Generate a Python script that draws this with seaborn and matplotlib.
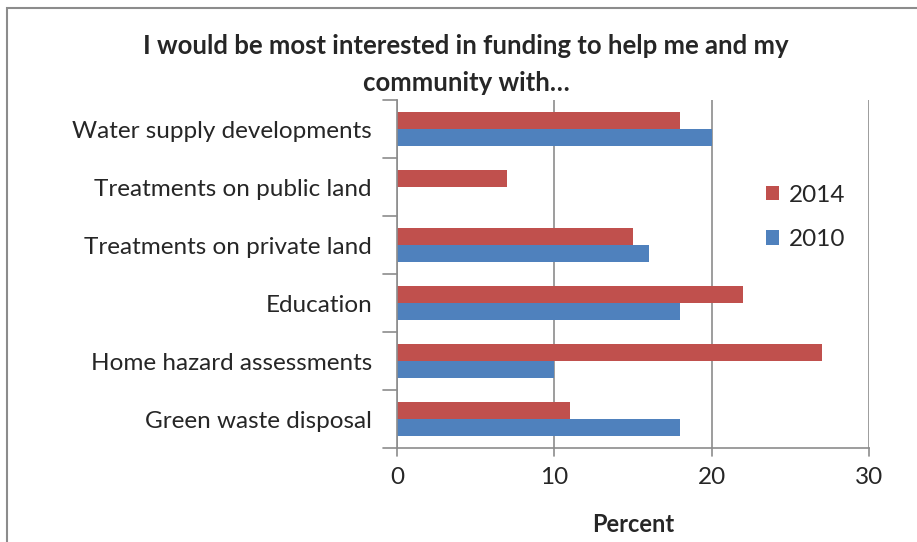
import matplotlib
matplotlib.use("Agg")
import matplotlib.pyplot as plt
import matplotlib.patches as mpatches
import seaborn as sns
import pandas as pd

categories = [
    "Water supply developments",
    "Treatments on public land",
    "Treatments on private land",
    "Education",
    "Home hazard assessments",
    "Green waste disposal",
]
values_2014 = [18, 7, 15, 22, 27, 11]
values_2010 = [20, 0, 16, 18, 10, 18]
years = ["2014", "2010"]
palette = {"2014": "#C0504D", "2010": "#4F81BD"}
x_ticks = [0, 10, 20, 30]

df = pd.DataFrame({
    "category": categories * 2,
    "year": ["2014"] * len(categories) + ["2010"] * len(categories),
    "percent": values_2014 + values_2010,
})

sns.set_theme(style="white")
plt.rcParams["font.family"] = ["Lato", "DejaVu Sans"]

fig = plt.figure(figsize=(9.17, 5.42), dpi=100)
ax = fig.add_axes([397 / 917, 1 - 448 / 542, (869 - 397) / 917, (448 - 100) / 542])

sns.barplot(data=df, y="category", x="percent", hue="year", hue_order=years,
            order=categories, palette=palette, orient="h", width=0.57,
            saturation=1, linewidth=0, ax=ax, legend=True)

ax.set_xlim(0, 30)
ax.set_ylim(len(categories) - 0.5, -0.5)
ax.set_xticks(x_ticks)
ax.set_xticklabels([str(t) for t in x_ticks], fontsize=17.5)
ax.xaxis.grid(True, color="#8C8C8C", linewidth=1.2)
ax.set_axisbelow(True)
ax.set_ylabel("")
ax.set_xlabel("Percent", fontsize=17, fontweight="bold", labelpad=18)
ax.tick_params(axis="y", labelsize=17.5, length=0, pad=18)
ax.tick_params(axis="x", length=0, pad=14)

for side in ["top", "right"]:
    ax.spines[side].set_visible(False)
for side in ["left", "bottom"]:
    ax.spines[side].set_color("#8C8C8C")
    ax.spines[side].set_linewidth(1.2)

# category separator ticks on the left and tick marks under the x axis
for b in [i - 0.5 for i in range(len(categories) + 1)]:
    ax.plot([-0.03, 0], [b, b], transform=ax.get_yaxis_transform(),
            color="#8C8C8C", lw=1.2, clip_on=False)
for t in x_ticks:
    ax.plot([t, t], [0, -0.022], transform=ax.get_xaxis_transform(),
            color="#8C8C8C", lw=1.2, clip_on=False)

handles, labels = ax.get_legend_handles_labels()
ax.legend(handles, labels, loc="upper left", bbox_to_anchor=((756 - 397) / 472, (448 - 175) / 348),
          frameon=False, fontsize=17.5, handlelength=0.55, handleheight=0.55,
          handletextpad=0.4, labelspacing=0.95, borderaxespad=0)

fig.text(466 / 917, 1 - 46 / 542, "I would be most interested in funding to help me and my",
         ha="center", va="center", fontsize=18.5, fontweight="bold")
fig.text(466 / 917, 1 - 83 / 542, "community with…",
         ha="center", va="center", fontsize=18.5, fontweight="bold")

fig.patches.append(mpatches.Rectangle((7 / 917, -0.1), 1.2, 1 - 8 / 542 + 0.1,
                                      transform=fig.transFigure, fill=False,
                                      edgecolor="#8C8C8C", linewidth=1.5))

fig.savefig("out.png", dpi=100)
